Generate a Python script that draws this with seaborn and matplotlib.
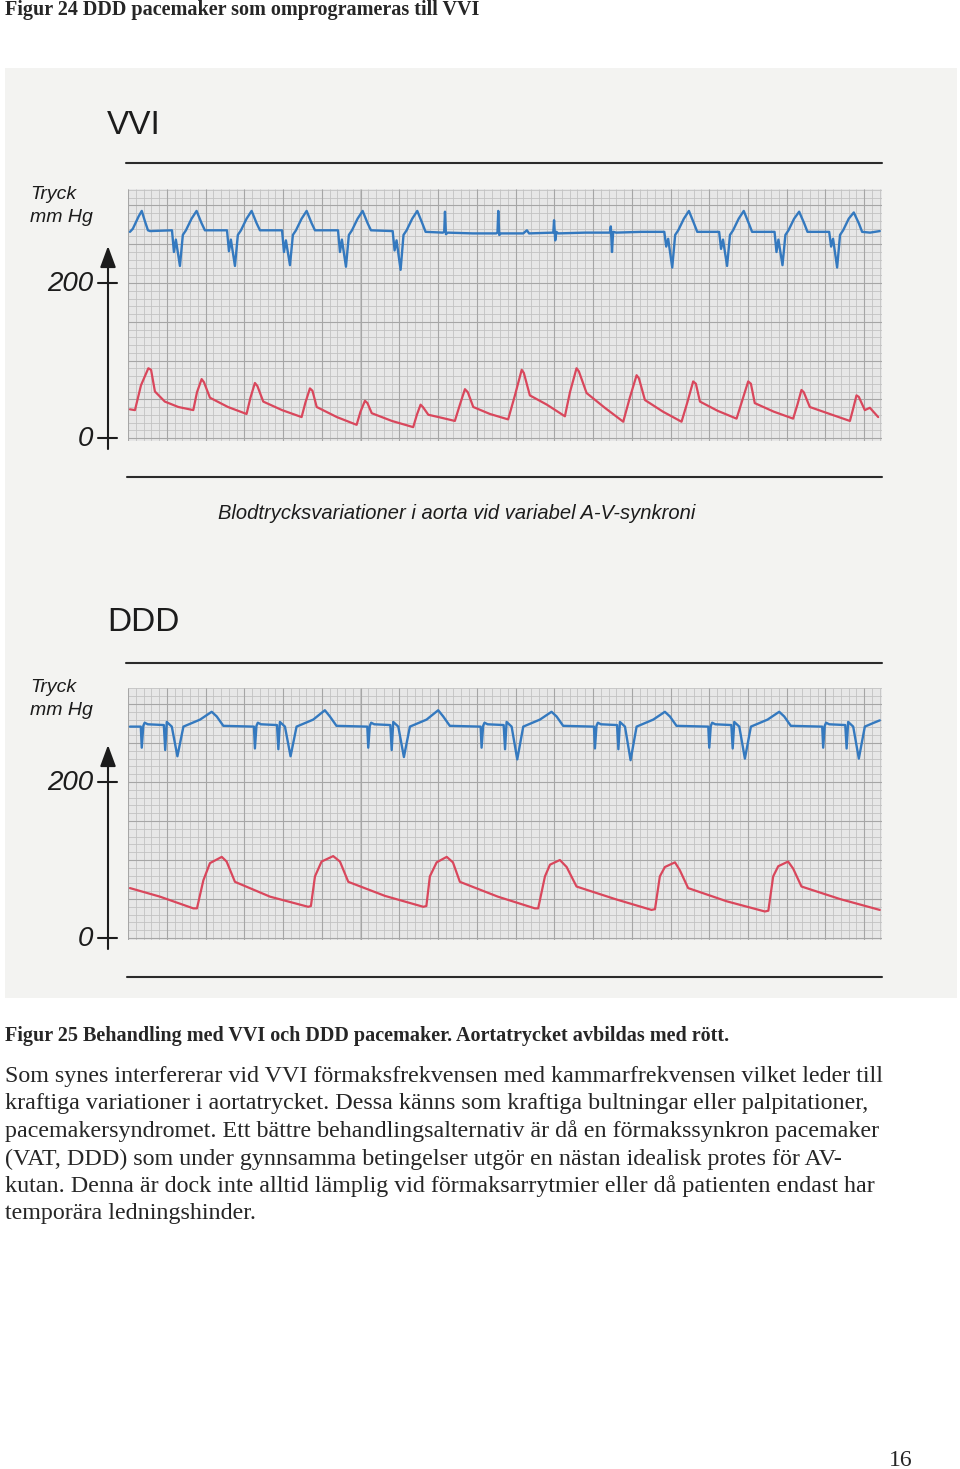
import numpy as np
import pandas as pd
import seaborn as sns
import matplotlib.pyplot as plt
from matplotlib.patches import Rectangle

# --- values ---
# (time in s on 25 mm/s paper, value on the panel's mmHg scale)
vvi_ecg = [
    (0.010, 266), (0.025, 270), (0.040, 278), (0.055, 286), (0.071, 293), (0.087, 280), (0.103, 268), (0.114, 267),
    (0.227, 268), (0.237, 240), (0.247, 256), (0.268, 222), (0.283, 262), (0.299, 268), (0.328, 283), (0.354, 293), (0.380, 277), (0.397, 268),
    (0.511, 268), (0.521, 241), (0.531, 256), (0.552, 222), (0.567, 262), (0.583, 268), (0.612, 283), (0.638, 293), (0.664, 277), (0.681, 268),
    (0.795, 268), (0.805, 240), (0.815, 255), (0.836, 223), (0.851, 262), (0.867, 268), (0.896, 283), (0.922, 293), (0.948, 277), (0.965, 268),
    (1.084, 268), (1.094, 240), (1.104, 256), (1.125, 221), (1.140, 262), (1.156, 268), (1.185, 283), (1.211, 293), (1.237, 277), (1.254, 268),
    (1.366, 267), (1.376, 242), (1.386, 255), (1.407, 217), (1.422, 262), (1.438, 268), (1.467, 283), (1.493, 293), (1.519, 277), (1.536, 266),
    (1.625, 265), (1.632, 266), (1.636, 292), (1.641, 263), (1.650, 265),
    (1.780, 264), (1.900, 264), (1.907, 265), (1.911, 293), (1.916, 262), (1.925, 264),
    (2.040, 264), (2.059, 268), (2.070, 264),
    (2.195, 265), (2.199, 281), (2.205, 255), (2.211, 266), (2.220, 264),
    (2.360, 265), (2.487, 265), (2.492, 273), (2.498, 240), (2.504, 266), (2.520, 265),
    (2.650, 266),
    (2.768, 266), (2.778, 247), (2.788, 257), (2.809, 220), (2.824, 262), (2.840, 268), (2.869, 283), (2.895, 293), (2.921, 277), (2.938, 266),
    (3.051, 266), (3.061, 244), (3.071, 256), (3.092, 222), (3.107, 262), (3.123, 268), (3.152, 283), (3.178, 293), (3.204, 277), (3.221, 266),
    (3.337, 266), (3.347, 240), (3.357, 256), (3.378, 223), (3.393, 262), (3.409, 268), (3.438, 283), (3.464, 292), (3.490, 277), (3.507, 266),
    (3.619, 266), (3.629, 247), (3.639, 257), (3.660, 220), (3.675, 262), (3.691, 268), (3.720, 283), (3.746, 291), (3.772, 277), (3.789, 266),
    (3.830, 265), (3.880, 267),
]

vvi_bp = [
    (0.010, 37), (0.036, 36), (0.067, 68), (0.105, 90), (0.119, 88), (0.139, 60), (0.190, 47), (0.260, 40), (0.337, 36),
    (0.356, 59), (0.380, 76), (0.392, 72), (0.423, 52), (0.516, 40), (0.612, 31),
    (0.632, 52), (0.655, 71), (0.668, 67), (0.698, 47), (0.795, 36), (0.896, 27),
    (0.916, 46), (0.939, 64), (0.952, 61), (0.974, 40), (1.078, 27), (1.180, 17),
    (1.200, 34), (1.223, 48), (1.236, 45), (1.258, 32), (1.362, 22), (1.472, 14),
    (1.491, 30), (1.510, 43), (1.522, 40), (1.550, 30), (1.620, 26), (1.687, 22),
    (1.713, 43), (1.739, 63), (1.754, 59), (1.782, 40), (1.868, 31), (1.962, 24),
    (1.997, 55), (2.032, 88), (2.043, 84), (2.074, 55), (2.162, 43), (2.255, 28),
    (2.281, 59), (2.315, 90), (2.327, 86), (2.367, 58), (2.461, 39), (2.556, 21),
    (2.590, 52), (2.625, 81), (2.637, 77), (2.668, 49), (2.761, 34), (2.857, 21),
    (2.887, 46), (2.917, 73), (2.931, 70), (2.952, 47), (3.044, 35), (3.141, 25),
    (3.171, 49), (3.201, 73), (3.215, 70), (3.235, 45), (3.333, 34), (3.433, 25),
    (3.455, 43), (3.476, 62), (3.488, 59), (3.519, 40), (3.622, 31), (3.726, 22),
    (3.744, 39), (3.760, 55), (3.772, 53), (3.803, 36), (3.829, 39), (3.872, 27),
]

ddd_ecg = [
    (0.010, 271),
    (0.066, 271), (0.071, 244), (0.079, 272), (0.086, 276), (0.102, 274), (0.185, 273), (0.192, 241), (0.200, 277),
    (0.226, 271), (0.255, 233), (0.286, 271), (0.372, 280), (0.432, 290), (0.458, 284), (0.492, 272),
    (0.650, 271), (0.655, 243), (0.663, 272), (0.670, 276), (0.686, 274), (0.769, 273), (0.776, 242), (0.784, 277),
    (0.810, 271), (0.839, 233), (0.870, 271), (0.956, 280), (1.016, 292), (1.042, 284), (1.076, 272),
    (1.235, 271), (1.240, 244), (1.248, 272), (1.255, 276), (1.271, 274), (1.354, 273), (1.361, 241), (1.369, 277),
    (1.395, 271), (1.424, 232), (1.455, 271), (1.541, 280), (1.601, 292), (1.627, 284), (1.661, 272),
    (1.820, 271), (1.825, 244), (1.833, 272), (1.840, 276), (1.856, 274), (1.939, 273), (1.946, 242), (1.954, 277),
    (1.980, 271), (2.009, 229), (2.040, 271), (2.126, 280), (2.186, 290), (2.212, 284), (2.246, 272),
    (2.405, 271), (2.410, 243), (2.418, 272), (2.425, 276), (2.441, 274), (2.524, 273), (2.531, 242), (2.539, 277),
    (2.565, 271), (2.594, 228), (2.625, 271), (2.711, 280), (2.771, 290), (2.797, 284), (2.831, 272),
    (2.995, 271), (3.000, 244), (3.008, 272), (3.015, 276), (3.031, 274), (3.114, 273), (3.121, 243), (3.129, 277),
    (3.155, 271), (3.184, 230), (3.215, 271), (3.301, 280), (3.361, 290), (3.387, 284), (3.421, 272),
    (3.583, 271), (3.588, 244), (3.596, 272), (3.603, 276), (3.619, 274), (3.702, 273), (3.709, 243), (3.717, 277),
    (3.743, 271), (3.772, 230), (3.803, 271), (3.850, 276), (3.880, 279),
]

ddd_bp = [
    (0.010, 64), (0.165, 53), (0.337, 38), (0.356, 38), (0.389, 74), (0.423, 96), (0.484, 104), (0.509, 98), (0.552, 72), (0.733, 53), (0.930, 40),
    (0.944, 41), (0.965, 79), (0.999, 98), (1.059, 105), (1.094, 98), (1.137, 72), (1.326, 54), (1.524, 40),
    (1.540, 41), (1.558, 79), (1.593, 97), (1.645, 104), (1.677, 97), (1.713, 72), (1.909, 53), (2.100, 38),
    (2.117, 38), (2.152, 79), (2.178, 94), (2.229, 100), (2.264, 91), (2.315, 66), (2.513, 50), (2.702, 36),
    (2.720, 37), (2.745, 79), (2.771, 91), (2.823, 97), (2.848, 87), (2.891, 64), (3.091, 47), (3.287, 34),
    (3.305, 35), (3.330, 79), (3.356, 92), (3.407, 98), (3.433, 89), (3.476, 66), (3.674, 50), (3.880, 36),
]

y_ticks = [0, 200]
panel_titles = ["VVI", "DDD"]
y_label = "Tryck\nmm Hg"
vvi_note = "Blodtrycksvariationer i aorta vid variabel A-V-synkroni"

page_title = "Figur 24 DDD pacemaker som omprogrameras till VVI"
fig_caption = "Figur 25 Behandling med VVI och DDD pacemaker. Aortatrycket avbildas med rött."
body_lines = [
    "Som synes interfererar vid VVI förmaksfrekvensen med kammarfrekvensen vilket leder till",
    "kraftiga variationer i aortatrycket. Dessa känns som kraftiga bultningar eller palpitationer,",
    "pacemakersyndromet. Ett bättre behandlingsalternativ är då en förmakssynkron pacemaker",
    "(VAT, DDD) som under gynnsamma betingelser utgör en nästan idealisk protes för AV-",
    "kutan. Denna är dock inte alltid lämplig vid förmaksarrytmier eller då patienten endast har",
    "temporära ledningshinder.",
]
page_number = "16"

ECG_BLUE = "#3479bf"
BP_RED = "#d9475c"
INK = "#1c1c1c"
W, H = 960, 1469
SEC_PER_PX = 0.04 / 7.75  # 1 mm small square = 7.75 px

sns.set_theme(style="white")
plt.rcParams["font.family"] = ["Liberation Sans", "DejaVu Sans"]

fig = plt.figure(figsize=(W / 100, H / 100), dpi=100)
fig.patch.set_facecolor("white")

# full page axes in pixel units (y down)
page = fig.add_axes([0, 0, 1, 1])
page.set_xlim(0, W)
page.set_ylim(H, 0)
page.axis("off")
page.add_patch(Rectangle((5, 68), 952, 930, facecolor="#f3f3f1", edgecolor="none"))


def to_df(points):
    return pd.DataFrame(points, columns=["t", "mmHg"])


def draw_panel(title, ecg, bp, grid_top, grid_bottom, zero_px, px_per_mmhg,
               title_base, line_top, line_bottom, label_y, note=None):
    left, right = 128, 882
    ax = fig.add_axes([left / W, 1 - grid_bottom / H, (right - left) / W, (grid_bottom - grid_top) / H])
    xmax = (right - left) * SEC_PER_PX
    ymin = (zero_px - grid_bottom) / px_per_mmhg
    ymax = (zero_px - grid_top) / px_per_mmhg
    ax.set_xlim(0, xmax)
    ax.set_ylim(ymin, ymax)
    ax.set_facecolor("#e7e7e7")

    # ECG paper grid
    ax.vlines(np.arange(0, xmax, 0.04), ymin, ymax, color="#c2c2c2", lw=0.6)
    ax.hlines(np.arange(0, ymax, 10), 0, xmax, color="#c2c2c2", lw=0.6)
    ax.vlines(np.arange(0, xmax, 0.2), ymin, ymax, color="#a6a6a6", lw=0.8)
    ax.hlines(np.arange(0, ymax, 50), 0, xmax, color="#a6a6a6", lw=0.8)

    sns.lineplot(data=to_df(ecg), x="t", y="mmHg", sort=False, estimator=None,
                 color=ECG_BLUE, lw=1.7, ax=ax)
    sns.lineplot(data=to_df(bp), x="t", y="mmHg", sort=False, estimator=None,
                 color=BP_RED, lw=1.6, ax=ax)
    ax.set(xlabel="", ylabel="", xticks=[], yticks=[])
    for s in ax.spines.values():
        s.set_visible(False)

    # frame lines, title, pressure axis
    page.plot([126, 882], [line_top, line_top], color="#2b2b2b", lw=1.5)
    page.plot([127, 882], [line_bottom, line_bottom], color="#2b2b2b", lw=1.5)
    page.text(107, title_base, title, fontsize=24, color=INK, va="baseline")
    page.text(30, label_y, y_label, fontsize=14, style="italic", color=INK,
              va="center", linespacing=1.4)

    y200 = zero_px - 200 * px_per_mmhg
    page.annotate("", xy=(108, y200 - 37), xytext=(108, zero_px + 11),
                  arrowprops=dict(arrowstyle="-|>,head_length=0.65,head_width=0.24",
                                  mutation_scale=20, lw=1.5, color=INK,
                                  shrinkA=0, shrinkB=0))
    for v in y_ticks:
        yp = zero_px - v * px_per_mmhg
        page.plot([98, 117], [yp, yp], color=INK, lw=1.5)
        page.text(93, yp + 1, str(v), ha="right", va="center", fontsize=20,
                  style="italic", color=INK)
    if note:
        page.text(218, line_bottom + 42, note, fontsize=14.5, style="italic",
                  color=INK, va="baseline")
    return ax


draw_panel(panel_titles[0], vvi_ecg, vvi_bp, grid_top=189, grid_bottom=441, zero_px=438,
           px_per_mmhg=0.775, title_base=134, line_top=163, line_bottom=477,
           label_y=206, note=vvi_note)
draw_panel(panel_titles[1], ddd_ecg, ddd_bp, grid_top=688, grid_bottom=940, zero_px=938,
           px_per_mmhg=0.78, title_base=631, line_top=663, line_bottom=977,
           label_y=699)

# document text around the figure
serif = ["Liberation Serif", "DejaVu Serif"]
page.text(5, 15, page_title, fontsize=14.5, fontweight="bold", family=serif, va="baseline")
page.text(5, 1041, fig_caption, fontsize=14.5, fontweight="bold", family=serif, va="baseline")
for i, line in enumerate(body_lines):
    page.text(5, 1082 + i * 27.5, line, fontsize=17.3, family=serif, va="baseline")
page.text(913, 1466, page_number, fontsize=17, family=serif, ha="right", va="baseline")

fig.savefig("out.png", dpi=100)
